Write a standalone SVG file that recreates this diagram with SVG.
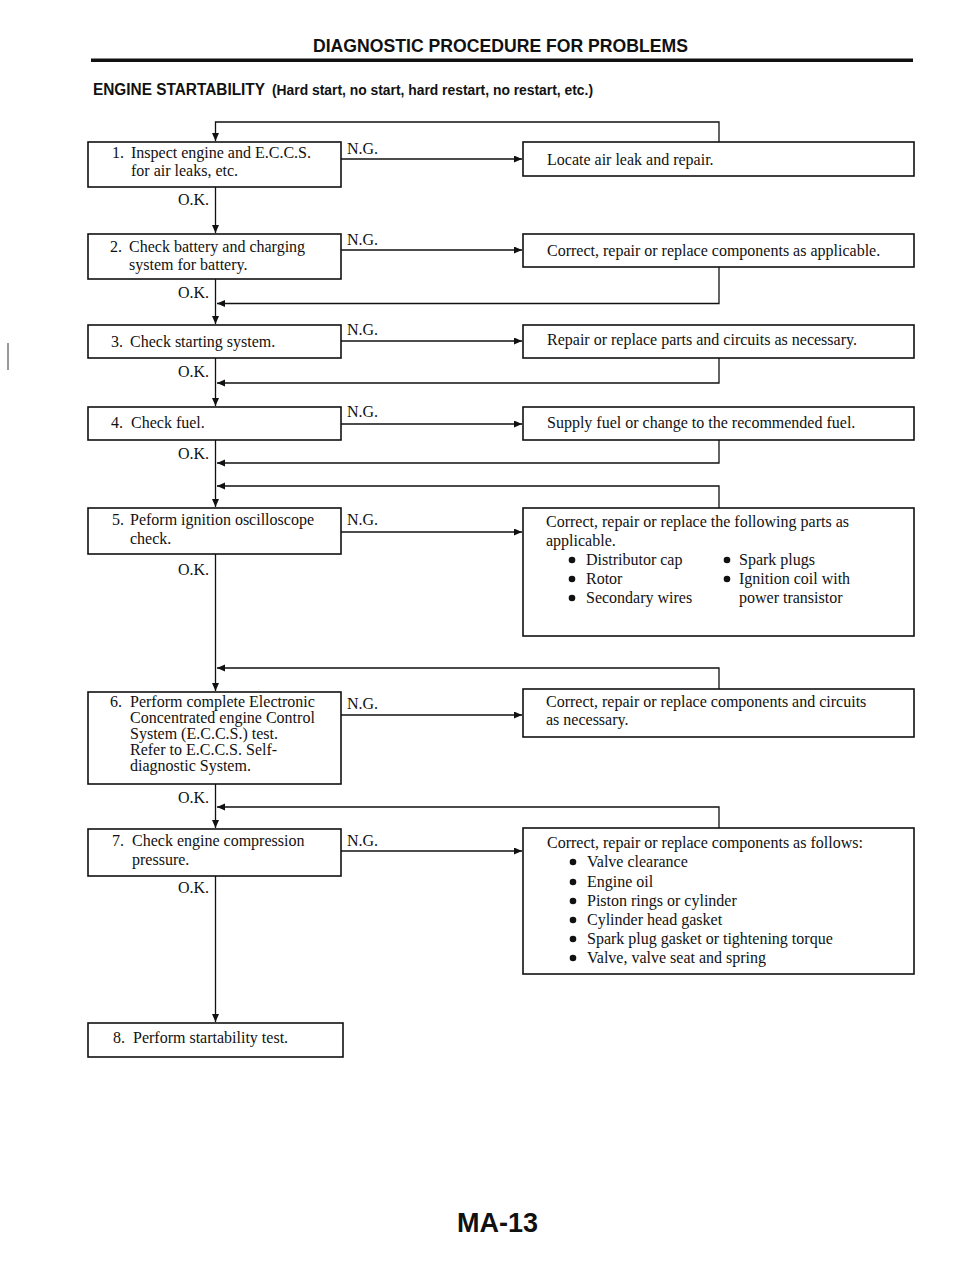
<svg xmlns="http://www.w3.org/2000/svg" width="960" height="1273" viewBox="0 0 960 1273">
<defs>
<marker id="ah" markerUnits="userSpaceOnUse" markerWidth="9" markerHeight="8" refX="8" refY="3.5" orient="auto">
<path d="M0,0 L8,3.5 L0,7 z" fill="#111"/>
</marker>
<style>
.box{fill:#fff;stroke:#111;stroke-width:1.6}
.t{font-family:"Liberation Serif","Times New Roman",serif;font-size:16px;fill:#111}
.lab{font-family:"Liberation Serif","Times New Roman",serif;font-size:16px;fill:#111}
.c{fill:none;stroke:#111;stroke-width:1.3}
.a{fill:none;stroke:#111;stroke-width:1.3;marker-end:url(#ah)}
.h{font-family:"Liberation Sans",Arial,sans-serif;font-weight:bold;fill:#111}
</style>
</defs>
<rect width="960" height="1273" fill="#fff"/>

<g id="header">
<text class="h" x="313" y="52" font-size="18.5" textLength="375" lengthAdjust="spacingAndGlyphs">DIAGNOSTIC PROCEDURE FOR PROBLEMS</text>
<rect x="91" y="58.5" width="822" height="3.5" fill="#111"/>
<text class="h" x="93" y="95" font-size="16" textLength="172" lengthAdjust="spacingAndGlyphs">ENGINE STARTABILITY</text>
<text class="h" x="272" y="95" font-size="14" textLength="321" lengthAdjust="spacingAndGlyphs">(Hard start, no start, hard restart, no restart, etc.)</text>
<line x1="8" y1="343" x2="8" y2="370" stroke="#333" stroke-width="1"/>
</g>

<g id="connectors">
<path class="a" d="M719,142 V122 H215.5 V141"/>
<path class="a" d="M341,159 H522"/>
<path class="a" d="M215.5,187 V233"/>
<path class="a" d="M341,250 H522"/>
<path class="a" d="M719,267 V303.5 H217"/>
<path class="a" d="M215.5,279 V324"/>
<path class="a" d="M341,341 H522"/>
<path class="a" d="M719,358 V383 H217"/>
<path class="a" d="M215.5,358 V406"/>
<path class="a" d="M341,424 H522"/>
<path class="a" d="M719,440 V463 H217"/>
<path class="a" d="M719,508 V486 H217"/>
<path class="a" d="M215.5,440 V507"/>
<path class="a" d="M341,532 H522"/>
<path class="a" d="M719,689 V668 H217"/>
<path class="a" d="M215.5,554 V691"/>
<path class="a" d="M341,715 H522"/>
<path class="a" d="M719,828 V807 H217"/>
<path class="a" d="M215.5,784 V828"/>
<path class="a" d="M341,851 H522"/>
<path class="a" d="M215.5,876 V1022"/>
<text class="lab" x="347" y="154">N.G.</text>
<text class="lab" x="347" y="245">N.G.</text>
<text class="lab" x="347" y="335">N.G.</text>
<text class="lab" x="347" y="417">N.G.</text>
<text class="lab" x="347" y="525">N.G.</text>
<text class="lab" x="347" y="709">N.G.</text>
<text class="lab" x="347" y="846">N.G.</text>
<text class="lab" x="209" y="205" text-anchor="end">O.K.</text>
<text class="lab" x="209" y="298" text-anchor="end">O.K.</text>
<text class="lab" x="209" y="377" text-anchor="end">O.K.</text>
<text class="lab" x="209" y="459" text-anchor="end">O.K.</text>
<text class="lab" x="209" y="575" text-anchor="end">O.K.</text>
<text class="lab" x="209" y="803" text-anchor="end">O.K.</text>
<text class="lab" x="209" y="893" text-anchor="end">O.K.</text>
</g>

<g id="step1">
<rect class="box" x="88" y="142" width="253" height="45"/>
<text class="t" x="112" y="158">1.</text>
<text class="t" x="131" y="158">Inspect engine and E.C.C.S.</text>
<text class="t" x="131" y="176">for air leaks, etc.</text>
</g>
<g id="step2">
<rect class="box" x="88" y="234" width="253" height="45"/>
<text class="t" x="110" y="252">2.</text>
<text class="t" x="129" y="252">Check battery and charging</text>
<text class="t" x="129" y="270">system for battery.</text>
</g>
<g id="step3">
<rect class="box" x="88" y="325" width="253" height="33"/>
<text class="t" x="111" y="347">3.</text>
<text class="t" x="130" y="347">Check starting system.</text>
</g>
<g id="step4">
<rect class="box" x="88" y="407" width="253" height="33"/>
<text class="t" x="111" y="428">4.</text>
<text class="t" x="131" y="428">Check fuel.</text>
</g>
<g id="step5">
<rect class="box" x="88" y="508" width="253" height="46"/>
<text class="t" x="112" y="525">5.</text>
<text class="t" x="130" y="525">Peform ignition oscilloscope</text>
<text class="t" x="130" y="544">check.</text>
</g>
<g id="step6">
<rect class="box" x="88" y="692" width="253" height="92"/>
<text class="t" x="110" y="707">6.</text>
<text class="t" x="130" y="707">Perform complete Electronic</text>
<text class="t" x="130" y="723">Concentrated engine Control</text>
<text class="t" x="130" y="739">System (E.C.C.S.) test.</text>
<text class="t" x="130" y="755">Refer to E.C.C.S. Self-</text>
<text class="t" x="130" y="771">diagnostic System.</text>
</g>
<g id="step7">
<rect class="box" x="88" y="829" width="253" height="47"/>
<text class="t" x="112" y="846">7.</text>
<text class="t" x="132" y="846">Check engine compression</text>
<text class="t" x="132" y="865">pressure.</text>
</g>
<g id="step8">
<rect class="box" x="88" y="1023" width="255" height="34"/>
<text class="t" x="113" y="1043">8.</text>
<text class="t" x="133" y="1043">Perform startability test.</text>
</g>

<g id="fix1">
<rect class="box" x="523" y="142" width="391" height="34"/>
<text class="t" x="547" y="165">Locate air leak and repair.</text>
</g>
<g id="fix2">
<rect class="box" x="523" y="234" width="391" height="33"/>
<text class="t" x="547" y="256">Correct, repair or replace components as applicable.</text>
</g>
<g id="fix3">
<rect class="box" x="523" y="325" width="391" height="33"/>
<text class="t" x="547" y="345">Repair or replace parts and circuits as necessary.</text>
</g>
<g id="fix4">
<rect class="box" x="523" y="407" width="391" height="33"/>
<text class="t" x="547" y="428">Supply fuel or change to the recommended fuel.</text>
</g>
<g id="fix5">
<rect class="box" x="523" y="508" width="391" height="128"/>
<text class="t" x="546" y="527">Correct, repair or replace the following parts as</text>
<text class="t" x="546" y="546">applicable.</text>
<circle cx="572" cy="560" r="3.3" fill="#111"/>
<circle cx="572" cy="579" r="3.3" fill="#111"/>
<circle cx="572" cy="598" r="3.3" fill="#111"/>
<text class="t" x="586" y="565">Distributor cap</text>
<text class="t" x="586" y="584">Rotor</text>
<text class="t" x="586" y="603">Secondary wires</text>
<circle cx="727" cy="560" r="3.3" fill="#111"/>
<circle cx="727" cy="579" r="3.3" fill="#111"/>
<text class="t" x="739" y="565">Spark plugs</text>
<text class="t" x="739" y="584">Ignition coil with</text>
<text class="t" x="739" y="603">power transistor</text>
</g>
<g id="fix6">
<rect class="box" x="523" y="689" width="391" height="48"/>
<text class="t" x="546" y="707">Correct, repair or replace components and circuits</text>
<text class="t" x="546" y="725">as necessary.</text>
</g>
<g id="fix7">
<rect class="box" x="523" y="828" width="391" height="146"/>
<text class="t" x="547" y="848">Correct, repair or replace components as follows:</text>
<circle cx="573" cy="862" r="3.3" fill="#111"/>
<circle cx="573" cy="882" r="3.3" fill="#111"/>
<circle cx="573" cy="901" r="3.3" fill="#111"/>
<circle cx="573" cy="920" r="3.3" fill="#111"/>
<circle cx="573" cy="939" r="3.3" fill="#111"/>
<circle cx="573" cy="958" r="3.3" fill="#111"/>
<text class="t" x="587" y="867">Valve clearance</text>
<text class="t" x="587" y="887">Engine oil</text>
<text class="t" x="587" y="906">Piston rings or cylinder</text>
<text class="t" x="587" y="925">Cylinder head gasket</text>
<text class="t" x="587" y="944">Spark plug gasket or tightening torque</text>
<text class="t" x="587" y="963">Valve, valve seat and spring</text>
</g>

<g id="footer">
<text class="h" x="457" y="1232" font-size="27" textLength="81" lengthAdjust="spacingAndGlyphs">MA-13</text>
</g>
</svg>
